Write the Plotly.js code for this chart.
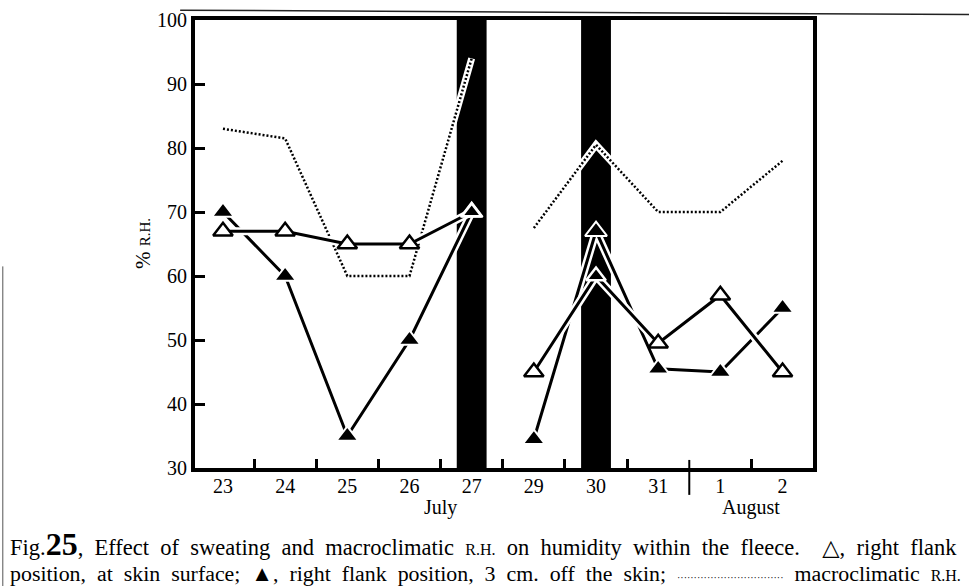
<!DOCTYPE html>
<html>
<head>
<meta charset="utf-8">
<script src="https://cdn.plot.ly/plotly-3.0.1.min.js"></script>
<style>html,body{margin:0;padding:0;background:#fff;}#chart{width:969px;height:586px;}</style>
</head>
<body>
<div id="chart"></div>
<script>
// ---- data ----
const days      = ['23','24','25','26','27','29','30','31','1','2'];
const monthOf   = ['July','July','July','July','July','July','July','July','August','August'];
const skinRH    = [67, 67, 65, 65, 70, 45, 60, 49.5, 57, 45];      // open triangles: at skin surface
const offSkinRH = [70, 60, 35, 50, 70, 34.5, 67, 45.5, 45, 55];    // filled triangles: 3 cm off the skin
const macroRH   = [83, 81.5, 60, 60, 94, 67.5, 80.5, 70, 70, 78];  // dotted: macroclimatic R.H.
const sweatDays = ['27','30'];   // black bars
const breakAfter = ['27'];       // lines are broken after this day
const yTicks    = [30, 40, 50, 60, 70, 80, 90, 100];

// ---- helpers ----
const idx = days.map((d, i) => i);
const segments = [];
let cur = [];
idx.forEach(i => { cur.push(i); if (breakAfter.includes(days[i]) || i === idx.length - 1) { segments.push(cur); cur = []; } });

const FONT = 'Liberation Serif, "DejaVu Serif", serif';
const traces = [];
function addLine(vals, style, haloW) {
  segments.forEach(seg => {
    traces.push({x: seg, y: seg.map(i => vals[i]), mode: 'lines', hoverinfo: 'skip',
      line: {color: 'white', width: haloW}});
    traces.push({x: seg, y: seg.map(i => vals[i]), mode: 'lines', hoverinfo: 'skip', line: style});
  });
}
addLine(macroRH, {color: 'black', width: 2.5, dash: '2px,2px'}, 7);
addLine(offSkinRH, {color: 'black', width: 3}, 8);
addLine(skinRH, {color: 'black', width: 3}, 8);

const onBar = days.map(d => sweatDays.includes(d));
traces.push({x: idx, y: offSkinRH, mode: 'markers', hoverinfo: 'skip',
  marker: {symbol: 'triangle-up', size: 19, color: 'black', line: {color: 'white', width: 2}}});
traces.push({x: idx, y: skinRH, mode: 'markers', hoverinfo: 'skip',
  marker: {symbol: 'triangle-up', size: 17,
    color: onBar.map(b => b ? 'black' : 'white'),
    line: {color: onBar.map(b => b ? 'white' : 'black'), width: 2.5}}});

// ticks between days, and a long separator between months
const minorTicks = [], seps = [];
for (let i = 0; i < idx.length - 1; i++) {
  if (monthOf[i] !== monthOf[i + 1]) seps.push(i + 0.5); else minorTicks.push(i + 0.5);
}

const shapes = [];
sweatDays.forEach(d => {
  const i = days.indexOf(d);
  shapes.push({type: 'rect', xref: 'x', yref: 'y', x0: i - 0.24, x1: i + 0.24, y0: 30, y1: 100,
    fillcolor: 'black', line: {width: 0}, layer: 'below'});
});
seps.forEach(s => shapes.push({type: 'line', xref: 'x', yref: 'paper', x0: s, x1: s, y0: -0.06, y1: 0.018,
  line: {color: 'black', width: 2}}));
// page edges of the scanned figure
shapes.push({type: 'line', xref: 'paper', yref: 'paper', x0: -0.024, x1: 1.26, y0: 1.022, y1: 1.012,
  line: {color: '#222', width: 1.5}});
shapes.push({type: 'line', xref: 'paper', yref: 'paper', x0: -0.311, x1: -0.311, y0: 0.45, y1: -0.27,
  line: {color: '#555', width: 1}});

// month labels centred under their days
const months = [...new Set(monthOf)];
const annotations = months.map(m => {
  const ii = idx.filter(i => monthOf[i] === m);
  return {text: m, x: (ii[0] + ii[ii.length - 1]) / 2, xref: 'x', y: -0.089, yref: 'paper',
    showarrow: false, font: {size: 20, family: FONT}, xanchor: 'center', yanchor: 'middle'};
});
annotations.push({text: '%\u00a0<span style="font-size:15px">R.H.</span>', textangle: -90, x: -0.084, xref: 'paper',
  y: 0.5, yref: 'paper', showarrow: false, font: {size: 21, family: FONT}, xanchor: 'center', yanchor: 'middle'});

// caption, justified by widening the word spaces
const J = '\u00a0\u00a0';
const cap1 = ['Fig.<b><span style="font-size:32px">25</span></b>,', 'Effect', 'of', 'sweating', 'and', 'macroclimatic',
  '<span style="font-size:16px">R.H.</span>', 'on', 'humidity', 'within', 'the', 'fleece.\u00a0\u00a0', '△,', 'right', 'flank'].join(J);
const cap2 = ['position,', 'at', 'skin', 'surface;', '▲,', 'right', 'flank', 'position,', '3', 'cm.', 'off', 'the', 'skin;',
  '<span style="font-size:10px">································</span>', 'macroclimatic',
  '<span style="font-size:16px">R.H.</span>'].join(J);
annotations.push({text: cap1, x: -0.3026, xref: 'paper', y: -0.170, yref: 'paper', showarrow: false,
  xanchor: 'left', yanchor: 'middle', font: {size: 22.5, family: FONT}});
annotations.push({text: cap2, x: -0.3026, xref: 'paper', y: -0.235, yref: 'paper', showarrow: false,
  xanchor: 'left', yanchor: 'middle', font: {size: 21.9, family: FONT}});

const layout = {
  width: 969, height: 586,
  margin: {l: 195, r: 156, t: 20, b: 118},
  paper_bgcolor: 'white', plot_bgcolor: 'white', showlegend: false,
  font: {family: FONT, color: 'black'},
  xaxis: {range: [-0.45, 9.49], showgrid: false, zeroline: false, showline: true, linewidth: 4,
    linecolor: 'black', mirror: true, tickmode: 'array', tickvals: idx, ticktext: days, ticks: '',
    ticklabelstandoff: -3,
    tickfont: {size: 20, family: FONT},
    minor: {tickmode: 'array', tickvals: minorTicks, ticks: 'inside', ticklen: 9, tickwidth: 3,
      tickcolor: 'black', showgrid: false}},
  yaxis: {range: [30, 100], showgrid: false, zeroline: false, showline: true, linewidth: 4,
    linecolor: 'black', mirror: true, tickmode: 'array', tickvals: yTicks, ticks: 'inside',
    ticklen: 10, tickwidth: 3, tickcolor: 'black', tickfont: {size: 20, family: FONT}},
  shapes: shapes,
  annotations: annotations
};

Plotly.newPlot('chart', traces, layout, {staticPlot: true, displayModeBar: false});
</script>
</body>
</html>
